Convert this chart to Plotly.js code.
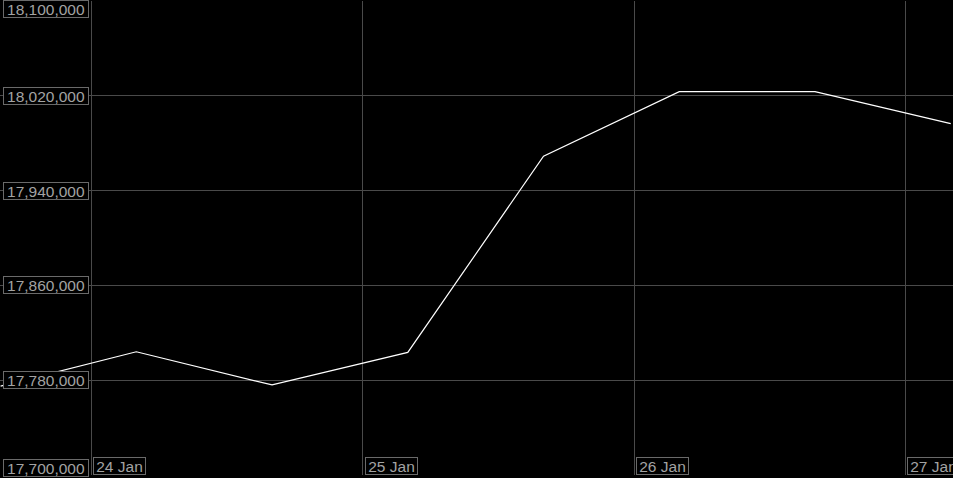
<!DOCTYPE html>
<html>
<head>
<meta charset="utf-8">
<script src="https://cdn.plot.ly/plotly-3.0.1.min.js"></script>
<style>
html,body{margin:0;padding:0;background:#000;}
#chart{width:953px;height:478px;}
</style>
</head>
<body>
<div id="chart"></div>
<script>
// Data (12-hour steps)
const times = [
  '2024-01-23 16:00', '2024-01-24 04:00', '2024-01-24 16:00', '2024-01-25 04:00',
  '2024-01-25 16:00', '2024-01-26 04:00', '2024-01-26 16:00', '2024-01-27 04:00'
];
const values = [17775000, 17804000, 17776000, 17803500, 17969000, 18023500, 18023500, 17996500];

// Ticks
const xTickVals = ['2024-01-24', '2024-01-25', '2024-01-26', '2024-01-27'];
const xTickText = ['24 Jan', '25 Jan', '26 Jan', '27 Jan'];
const yTickVals = [17700000, 17780000, 17860000, 17940000, 18020000, 18100000];
const yTickText = ['17,700,000', '17,780,000', '17,860,000', '17,940,000', '18,020,000', '18,100,000'];

const HOUR = 3600 * 1000;
const base = new Date('2024-01-24T00:00:00Z').getTime();
function iso(ms){ return new Date(ms).toISOString().replace('T',' ').replace('Z',''); }
const xRange = [iso(base - 8.05 * HOUR), iso(base + 76.2 * HOUR)];
const yRange = [17700000, 18100000];

const txtColor = '#a3a3a3';
const boxColor = '#6a6a6a';
const gridColor = '#4a4a4a';
const font = {family: 'Liberation Sans, Arial, sans-serif', size: 15.5, color: txtColor};

const annotations = [];
yTickVals.forEach((v, i) => {
  const a = {
    xref: 'paper', yref: 'y', x: 0, y: v,
    xanchor: 'left', yanchor: 'middle', xshift: 3,
    text: yTickText[i], showarrow: false, font: font,
    bgcolor: '#000', bordercolor: boxColor, borderwidth: 1, borderpad: 0,
    width: 84, height: 16
  };
  if (i === yTickVals.length - 1) { a.yanchor = 'top'; a.yshift = 1; }
  if (i === 0) { a.yanchor = 'bottom'; a.yshift = -2; }
  annotations.push(a);
});
xTickVals.forEach((v, i) => {
  annotations.push({
    xref: 'x', yref: 'paper', x: v, y: 0,
    xanchor: 'left', yanchor: 'bottom', xshift: 2,
    text: xTickText[i], showarrow: false, font: font,
    bgcolor: '#000', bordercolor: boxColor, borderwidth: 1, borderpad: 0,
    width: 51, height: 16
  });
});

const trace = {
  x: times, y: values, type: 'scatter', mode: 'lines',
  line: {color: '#ffffff', width: 1.2}, hoverinfo: 'skip'
};

const layout = {
  width: 953, height: 478,
  margin: {l: 0, r: 0, t: 1, b: 3, pad: 0},
  paper_bgcolor: '#000', plot_bgcolor: '#000',
  showlegend: false,
  xaxis: {
    type: 'date', range: xRange, tickmode: 'array', tickvals: xTickVals,
    showticklabels: false, showgrid: true, gridcolor: gridColor, gridwidth: 1,
    zeroline: false, showline: false, ticks: ''
  },
  yaxis: {
    range: yRange, tickmode: 'array', tickvals: yTickVals,
    showticklabels: false, showgrid: true, gridcolor: gridColor, gridwidth: 1,
    zeroline: false, showline: false, ticks: ''
  },
  annotations: annotations
};

Plotly.newPlot('chart', [trace], layout, {displayModeBar: false, staticPlot: true});
</script>
</body>
</html>
